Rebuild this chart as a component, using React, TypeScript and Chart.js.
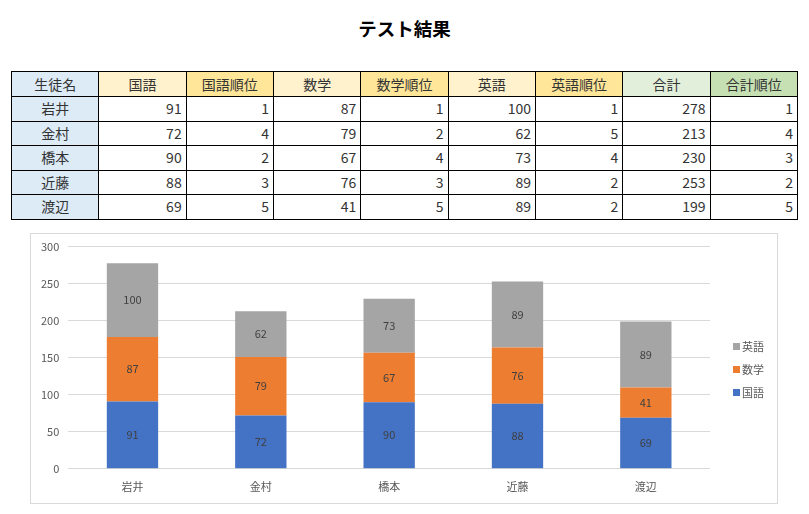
import React, { useEffect, useRef } from "react";
import { Chart, registerables } from "chart.js";

Chart.register(...registerables);

const students = ["岩井", "金村", "橋本", "近藤", "渡辺"];
const kokugo = [91, 72, 90, 88, 69];
const kokugoRank = [1, 4, 2, 3, 5];
const sugaku = [87, 79, 67, 76, 41];
const sugakuRank = [1, 2, 4, 3, 5];
const eigo = [100, 62, 73, 89, 89];
const eigoRank = [1, 5, 4, 2, 2];
const total = [278, 213, 230, 253, 199];
const totalRank = [1, 4, 3, 2, 5];
const headers = ["生徒名", "国語", "国語順位", "数学", "数学順位", "英語", "英語順位", "合計", "合計順位"];
const headerColors = ["#DDEBF7", "#FFF2CC", "#FFE699", "#FFF2CC", "#FFE699", "#FFF2CC", "#FFE699", "#E2EFDA", "#C6E0B4"];
const yTicks = [0, 50, 100, 150, 200, 250, 300];

const FONT = '"Noto Sans CJK JP", "Noto Sans", sans-serif';

const dataLabelPlugin = {
  id: "dataLabels",
  afterDatasetsDraw(chart: any) {
    const ctx = chart.ctx;
    ctx.save();
    ctx.font = `11px ${FONT}`;
    ctx.fillStyle = "#404040";
    ctx.textAlign = "center";
    ctx.textBaseline = "middle";
    chart.data.datasets.forEach((ds: any, i: number) => {
      const meta = chart.getDatasetMeta(i);
      meta.data.forEach((el: any, j: number) => {
        const p = el.getCenterPoint();
        ctx.fillText(String(ds.data[j]), p.x, p.y);
      });
    });
    ctx.restore();
  },
};

const rightLegendPlugin = {
  id: "rightLegend",
  afterDraw(chart: any) {
    const ctx = chart.ctx;
    const items = chart.data.datasets.map((d: any) => ({ label: d.label, color: d.backgroundColor })).reverse();
    const spacing = 23;
    const cy = chart.height / 2 + 1;
    const startY = cy - ((items.length - 1) * spacing) / 2;
    const x = chart.chartArea.right + 23;
    ctx.save();
    ctx.font = `11px ${FONT}`;
    ctx.textBaseline = "middle";
    ctx.textAlign = "left";
    items.forEach((it: any, i: number) => {
      const y = startY + i * spacing;
      ctx.fillStyle = it.color;
      ctx.fillRect(x, y - 3.5, 7, 7);
      ctx.fillStyle = "#595959";
      ctx.fillText(it.label, x + 9, y);
    });
    ctx.restore();
  },
};

function StackChart() {
  const ref = useRef<HTMLCanvasElement>(null);
  useEffect(() => {
    if (!ref.current) return;
    const chart = new Chart(ref.current, {
      type: "bar",
      data: {
        labels: students,
        datasets: [
          { label: "国語", data: kokugo, backgroundColor: "#4472C4" },
          { label: "数学", data: sugaku, backgroundColor: "#ED7D31" },
          { label: "英語", data: eigo, backgroundColor: "#A5A5A5" },
        ],
      },
      options: {
        animation: false,
        responsive: false,
        maintainAspectRatio: false,
        layout: { padding: { left: 1, right: 67, top: 0, bottom: 7 } },
        datasets: { bar: { categoryPercentage: 1, barPercentage: 0.4 } } as any,
        plugins: {
          legend: { display: false },
          tooltip: { enabled: false },
          title: { display: false },
        },
        scales: {
          x: {
            stacked: true,
            grid: { display: false },
            border: { display: false },
            ticks: { color: "#595959", font: { family: FONT, size: 11 }, padding: 3 },
          },
          y: {
            stacked: true,
            min: 0,
            max: 300,
            afterBuildTicks: (axis: any) => {
              axis.ticks = yTicks.map((v) => ({ value: v }));
            },
            grid: { color: "#D9D9D9", drawTicks: false },
            border: { display: false },
            ticks: { color: "#595959", font: { family: FONT, size: 11, lineHeight: 0.7 }, padding: 9 },
          },
        },
      },
      plugins: [dataLabelPlugin, rightLegendPlugin],
    });
    return () => chart.destroy();
  }, []);
  return <canvas ref={ref} width={746} height={269} style={{ display: "block" }} />;
}

export default function App() {
  const rows = students.map((s, i) => [
    s,
    kokugo[i],
    kokugoRank[i],
    sugaku[i],
    sugakuRank[i],
    eigo[i],
    eigoRank[i],
    total[i],
    totalRank[i],
  ]);
  const cell: React.CSSProperties = {
    border: "1px solid #000",
    height: 23,
    padding: "0 4px",
    fontSize: 14,
    color: "#333",
    lineHeight: "23px",
    boxSizing: "border-box",
  };
  return (
    <div style={{ position: "absolute", left: 0, top: 0, width: 809, height: 514, background: "#fff", fontFamily: FONT }}>
      <div style={{ position: "absolute", left: 0, top: 15, width: 809, textAlign: "center", fontSize: 18.5, fontWeight: "bold", color: "#000" }}>
        テスト結果
      </div>
      <table style={{ position: "absolute", left: 11, top: 71, width: 787, borderCollapse: "collapse", tableLayout: "fixed" }}>
        <thead>
          <tr>
            {headers.map((h, i) => (
              <th key={h} style={{ ...cell, background: headerColors[i], fontWeight: "normal", textAlign: "center", height: 25 }}>
                {h}
              </th>
            ))}
          </tr>
        </thead>
        <tbody>
          {rows.map((r, i) => (
            <tr key={i}>
              {r.map((v, j) => (
                <td
                  key={j}
                  style={{ ...cell, height: 24.5, textAlign: j === 0 ? "center" : "right", background: j === 0 ? "#DDEBF7" : "#fff" }}
                >
                  {v}
                </td>
              ))}
            </tr>
          ))}
        </tbody>
      </table>
      <div style={{ position: "absolute", left: 30, top: 233, border: "1px solid #D9D9D9" }}>
        <StackChart />
      </div>
    </div>
  );
}
